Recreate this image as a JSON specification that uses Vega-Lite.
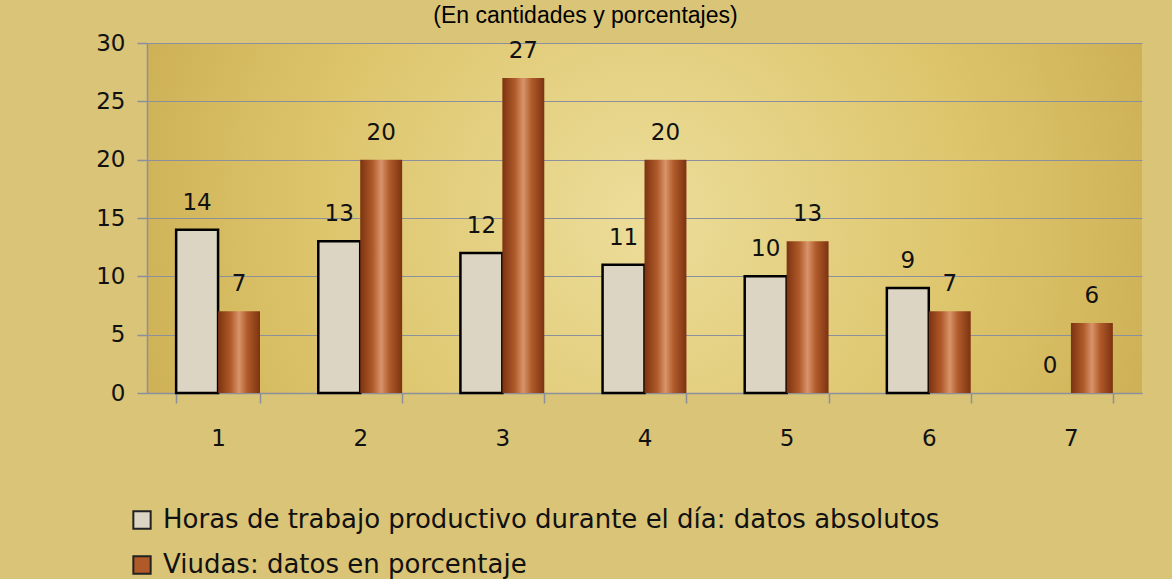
{
  "$schema": "https://vega.github.io/schema/vega-lite/v6.json",
  "width": 995,
  "height": 350,
  "autosize": {"type": "none"},
  "padding": {"left": 147, "top": 43, "right": 30, "bottom": 186},
  "background": "#d9c477",
  "title": {
    "text": "(En cantidades y porcentajes)",
    "font": "Liberation Sans",
    "fontSize": 23,
    "fontWeight": "normal",
    "color": "#000000",
    "anchor": "middle",
    "frame": "group",
    "baseline": "alphabetic",
    "offset": -14,
    "dx": -59
  },
  "config": {
    "view": {
      "stroke": null,
      "fill": {
        "gradient": "radial",
        "x1": 0.5, "y1": 0.5, "r1": 0,
        "x2": 0.5, "y2": 0.5, "r2": 0.72,
        "stops": [
          {"offset": 0, "color": "#ecdd9a"},
          {"offset": 0.45, "color": "#ddc56c"},
          {"offset": 0.78, "color": "#ccae52"},
          {"offset": 1, "color": "#e6d9a2"}
        ]
      }
    },
    "axis": {
      "labelFont": "DejaVu Sans",
      "labelFontSize": 23,
      "labelColor": "#111111",
      "domainColor": "#8c8f9c",
      "tickColor": "#8c8f9c",
      "gridColor": "#8c8f9c",
      "domainWidth": 1.5,
      "tickWidth": 1.5,
      "gridWidth": 1.2,
      "tickSize": 10,
      "title": null
    }
  },
  "data": {
    "values": [
      {"cat": "1", "serie": "Horas de  trabajo productivo durante el día: datos absolutos", "value": 14},
      {"cat": "2", "serie": "Horas de  trabajo productivo durante el día: datos absolutos", "value": 13},
      {"cat": "3", "serie": "Horas de  trabajo productivo durante el día: datos absolutos", "value": 12},
      {"cat": "4", "serie": "Horas de  trabajo productivo durante el día: datos absolutos", "value": 11},
      {"cat": "5", "serie": "Horas de  trabajo productivo durante el día: datos absolutos", "value": 10},
      {"cat": "6", "serie": "Horas de  trabajo productivo durante el día: datos absolutos", "value": 9},
      {"cat": "7", "serie": "Horas de  trabajo productivo durante el día: datos absolutos", "value": 0},
      {"cat": "1", "serie": "Viudas: datos en porcentaje", "value": 7},
      {"cat": "2", "serie": "Viudas: datos en porcentaje", "value": 20},
      {"cat": "3", "serie": "Viudas: datos en porcentaje", "value": 27},
      {"cat": "4", "serie": "Viudas: datos en porcentaje", "value": 20},
      {"cat": "5", "serie": "Viudas: datos en porcentaje", "value": 13},
      {"cat": "6", "serie": "Viudas: datos en porcentaje", "value": 7},
      {"cat": "7", "serie": "Viudas: datos en porcentaje", "value": 6}
    ]
  },
  "encoding": {
    "x": {
      "field": "cat",
      "type": "ordinal",
      "scale": {"paddingInner": 0.41, "paddingOuter": 0.205},
      "axis": {
        "labelAngle": 0,
        "tickBand": "extent",
        "labelPadding": 24,
        "grid": false
      }
    },
    "xOffset": {
      "field": "serie",
      "type": "nominal",
      "scale": {"domain": ["Horas de  trabajo productivo durante el día: datos absolutos", "Viudas: datos en porcentaje"]}
    },
    "y": {
      "field": "value",
      "type": "quantitative",
      "scale": {"domain": [0, 30], "nice": false},
      "axis": {
        "values": [0, 5, 10, 15, 20, 25, 30],
        "grid": true,
        "labelPadding": 12
      }
    }
  },
  "layer": [
    {
      "transform": [
        {"filter": "datum.serie === 'Horas de  trabajo productivo durante el día: datos absolutos' && datum.value > 0"}
      ],
      "mark": {"type": "bar", "fill": "#dcd5c3", "stroke": "#000000", "strokeWidth": 2.5}
    },
    {
      "transform": [
        {"filter": "datum.serie === 'Viudas: datos en porcentaje'"}
      ],
      "mark": {
        "type": "bar",
        "stroke": null,
        "fill": {
          "gradient": "linear",
          "x1": 0, "y1": 0, "x2": 1, "y2": 0,
          "stops": [
            {"offset": 0, "color": "#7c3310"},
            {"offset": 0.3, "color": "#b05a2a"},
            {"offset": 0.5, "color": "#d8946a"},
            {"offset": 0.7, "color": "#b05a2a"},
            {"offset": 1, "color": "#7c3310"}
          ]
        }
      }
    },
    {
      "mark": {
        "type": "text",
        "font": "DejaVu Sans",
        "fontSize": 23,
        "color": "#111111",
        "baseline": "middle",
        "dy": -27
      },
      "encoding": {
        "text": {"field": "value", "type": "quantitative"}
      }
    },
    {
      "mark": {"type": "point", "shape": "square", "filled": true, "opacity": 0},
      "encoding": {
        "color": {
          "field": "serie",
          "type": "nominal",
          "scale": {
            "domain": ["Horas de  trabajo productivo durante el día: datos absolutos", "Viudas: datos en porcentaje"],
            "range": ["#dcd5c3", "#b05a2a"]
          },
          "legend": {
            "title": null,
            "orient": "none",
            "legendX": -18,
            "legendY": 464,
            "direction": "vertical",
            "symbolType": "square",
            "symbolSize": 300,
            "symbolOpacity": 1,
            "symbolStrokeColor": "#222222",
            "symbolStrokeWidth": 2,
            "labelFont": "DejaVu Sans",
            "labelFontSize": 26,
            "labelColor": "#111111",
            "labelOffset": 8,
            "labelLimit": 1200,
            "rowPadding": 19,
            "padding": 0
          }
        }
      }
    }
  ]
}
